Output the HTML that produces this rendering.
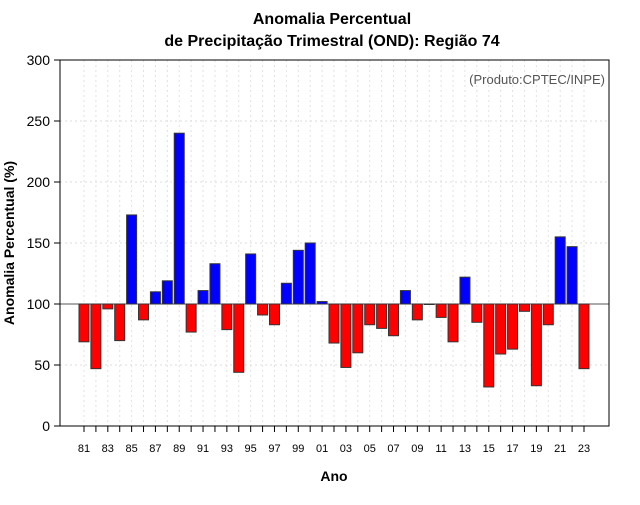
<!DOCTYPE html>
<html><head><meta charset="utf-8"><style>
body{margin:0;background:#fff;font-family:"Liberation Sans",Arial,sans-serif}
svg text{font-family:"Liberation Sans",Arial,sans-serif}
</style></head><body>
<svg id="chart" width="640" height="500" xmlns="http://www.w3.org/2000/svg">
<rect width="640" height="500" fill="#fff"/>
<text x="332" y="24" text-anchor="middle" font-size="16" font-weight="bold">Anomalia Percentual</text>
<text x="332" y="46" text-anchor="middle" font-size="16" font-weight="bold">de Precipitação Trimestral (OND): Região 74</text>
<g id="grid"></g>
<g id="bars"></g>
<g id="axes"></g>
<rect x="60" y="60" width="549" height="366" fill="none" stroke="#000" stroke-width="1"/>
<text x="605" y="84" text-anchor="end" font-size="13" fill="#555">(Produto:CPTEC/INPE)</text>
<text x="334" y="481" text-anchor="middle" font-size="14" font-weight="bold">Ano</text>
<text transform="translate(14,243) rotate(-90)" text-anchor="middle" font-size="14" font-weight="bold">Anomalia Percentual (%)</text>
</svg>
<script>
const years=[81,82,83,84,85,86,87,88,89,90,91,92,93,94,95,96,97,98,99,0,1,2,3,4,5,6,7,8,9,10,11,12,13,14,15,16,17,18,19,20,21,22,23];
const values=[69,47,96,70,173,87,110,119,240,77,111,133,79,44,141,91,83,117,144,150,102,68,48,60,83,80,74,111,87,100,89,69,122,85,32,59,63,94,33,83,155,147,47];
const yTicks=[0,50,100,150,200,250,300];
const NS="http://www.w3.org/2000/svg";
const xs=i=>84+i*(500/42);
const ys=v=>426-v*366/300;
function mk(t,a,p){const e=document.createElementNS(NS,t);for(const k in a)e.setAttribute(k,a[k]);p.appendChild(e);return e;}
const grid=document.getElementById('grid'),bars=document.getElementById('bars'),axes=document.getElementById('axes');
yTicks.forEach(v=>{
  if(v>0&&v<300){const g=mk('line',{x1:60,x2:609,y1:ys(v),y2:ys(v),stroke:'#ddd','stroke-dasharray':'2,3'},grid);
  
  }
  const t=mk('line',{x1:54,x2:60,y1:ys(v),y2:ys(v),stroke:'#000'},axes);
  
  
  const l=mk('text',{x:50,y:ys(v)+5,'text-anchor':'end','font-size':14},axes);l.textContent=v;
  
  
});
years.forEach((y,i)=>{
  const x=xs(i);
  const g=mk('line',{x1:x,x2:x,y1:60,y2:426,stroke:'#e2e2e2','stroke-dasharray':'2,3'},grid);
  
  
  const t=mk('line',{x1:x,x2:x,y1:426,y2:432,stroke:'#000'},axes);
  
  
  if(i%2===0){const l=mk('text',{x:x,y:452,'text-anchor':'middle','font-size':11},axes);l.textContent=String(y).padStart(2,'0');
  
  }
});
const base=mk('line',{x1:60,x2:609,y1:ys(100),y2:ys(100),stroke:'#555','stroke-width':1},grid);


values.forEach((v,i)=>{
  const top=Math.min(ys(v),ys(100)),h=Math.abs(ys(v)-ys(100));
  const r=mk('rect',{x:xs(i)-5,y:top,width:10,height:Math.max(h,0.5),fill:v>=100?'#0000ff':'#ff0000',stroke:'#333','stroke-width':1},bars);
  
  
});
</script>
</body></html>
